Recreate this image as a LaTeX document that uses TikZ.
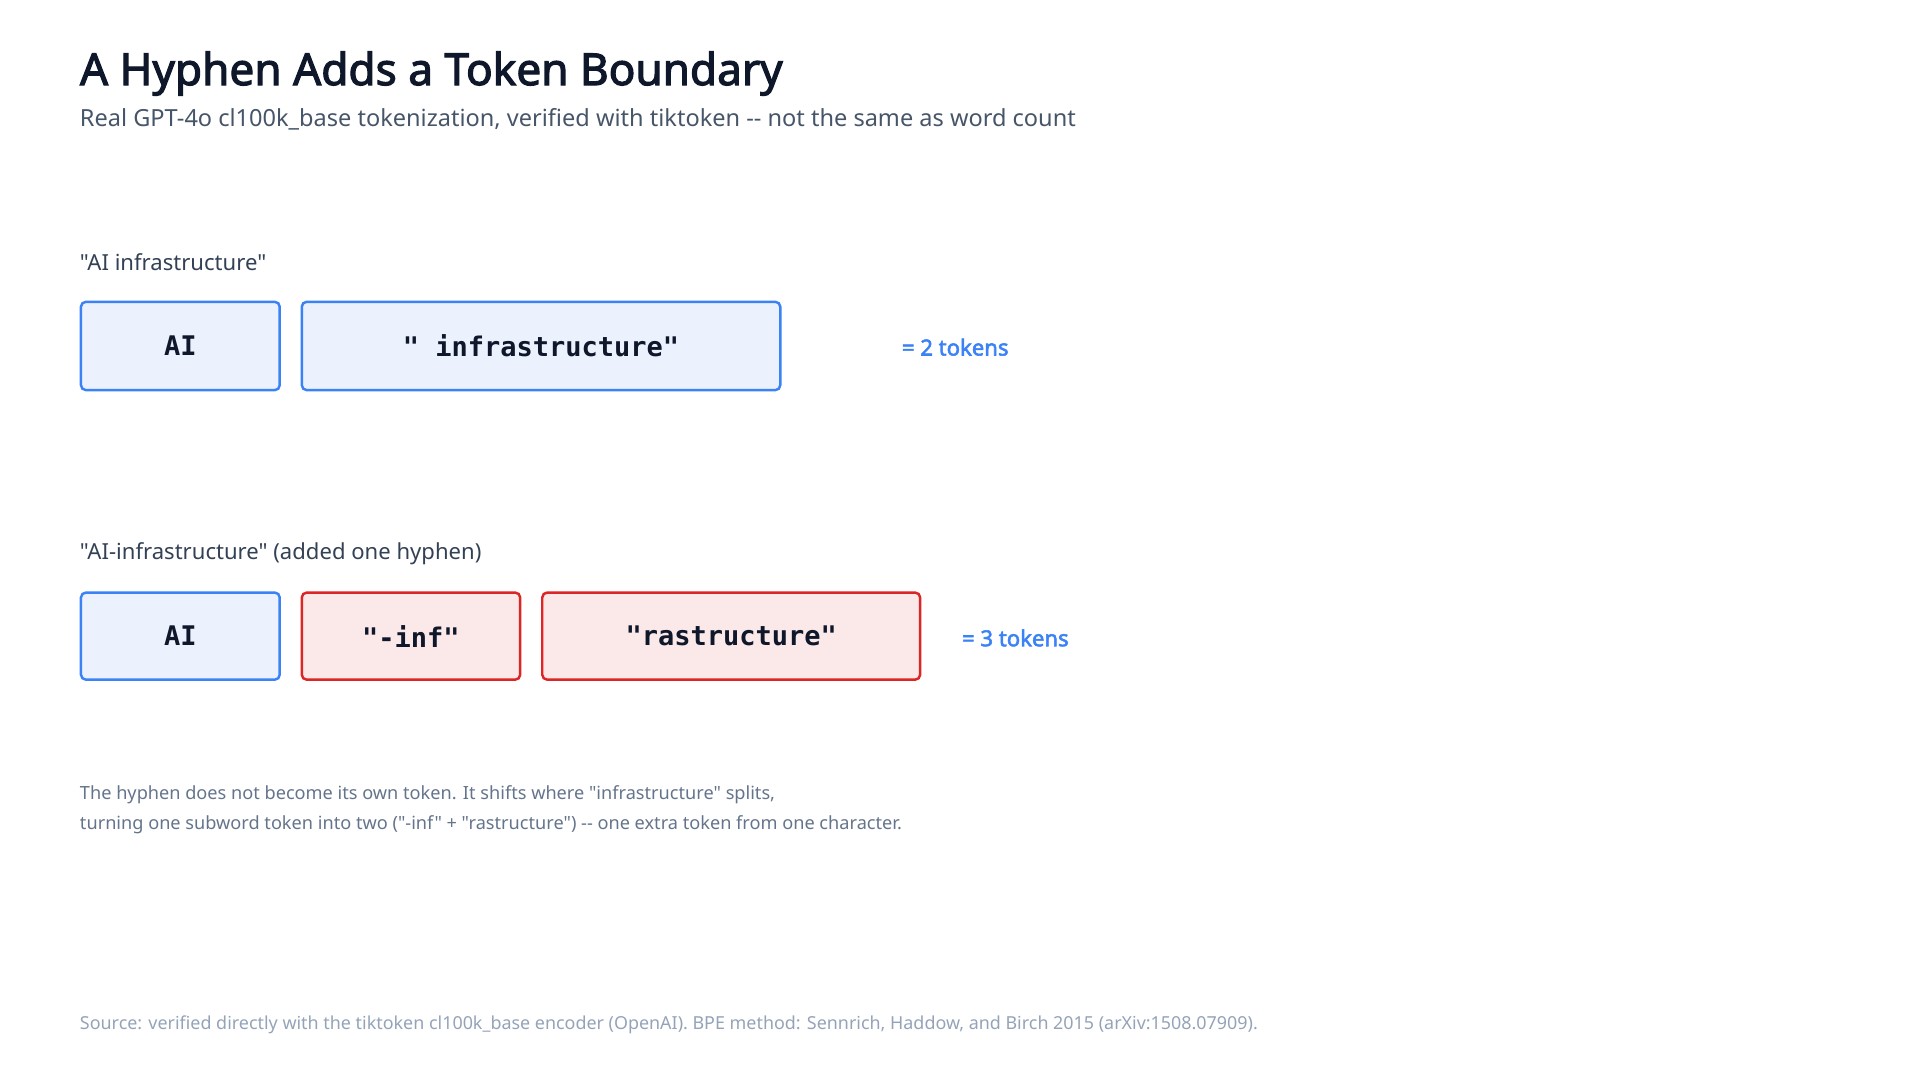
\documentclass[tikz,border=0pt]{standalone}
\usepackage{fontspec}
\setmainfont{Noto Sans}[Ligatures=TeXOff,BoldFont={Noto Sans},BoldFeatures={FakeBold=2.5}]
\newfontfamily\mono{DejaVu Sans Mono}[Ligatures=TeXOff]
\definecolor{bblue}{HTML}{3B82F6}
\definecolor{fblue}{HTML}{EBF1FD}
\definecolor{bred}{HTML}{DC2626}
\definecolor{fred}{HTML}{FBE8E8}
\definecolor{ctitle}{HTML}{0F172A}
\definecolor{csub}{HTML}{475569}
\definecolor{clab}{HTML}{334155}
\definecolor{cnote}{HTML}{64748B}
\definecolor{csrc}{HTML}{94A3B8}
\begin{document}
\begin{tikzpicture}[x=1pt,y=-1pt,
  tok/.style={draw,line width=2pt,rounded corners=4pt,inner sep=0pt,font=\mono\bfseries\fontsize{22}{26}\selectfont,text=ctitle},
  bt/.style={tok,draw=bblue,fill=fblue},
  rt/.style={tok,draw=bred,fill=fred},
  txt/.style={anchor=west,inner sep=0pt}]
\useasboundingbox (0,0) rectangle (1565,880);
\node[txt,font=\bfseries\fontsize{36}{40}\selectfont,text=ctitle] (title) at (65,60) {A Hyphen Adds a Token Boundary};
\node[txt,font=\fontsize{19.2}{24}\selectfont,text=csub] (sub) at (65,97) {Real GPT-4o cl100k\_base tokenization, verified with tiktoken -- not the same as word count};
\node[txt,font=\fontsize{18}{22}\selectfont,text=clab] (l1) at (65,214) {"AI infrastructure"};
\node[bt,minimum width=162pt,minimum height=72pt] (a1) at (147,282) {AI};
\node[bt,minimum width=390pt,minimum height=72pt] (b1) at (441,282) {" infrastructure"};
\node[txt,font=\bfseries\fontsize{18}{22}\selectfont,text=bblue] (c1) at (735,283) {= 2 tokens};
\node[txt,font=\fontsize{18}{22}\selectfont,text=clab] (l2) at (65,451) {"AI-infrastructure" (added one hyphen)};
\node[bt,minimum width=162pt,minimum height=71pt] (a2) at (147,518.5) {AI};
\node[rt,minimum width=178pt,minimum height=71pt] (b2) at (335,518.5) {"-inf"};
\node[rt,minimum width=308pt,minimum height=71pt] (d2) at (596,518.5) {"rastructure"};
\node[txt,font=\bfseries\fontsize{18}{22}\selectfont,text=bblue] (c2) at (784,520) {= 3 tokens};
\node[txt,font=\fontsize{14.8}{18}\selectfont,text=cnote] (n1) at (65,648) {The hyphen does not become its own token. It shifts where "infrastructure" splits,};
\node[txt,font=\fontsize{14.8}{18}\selectfont,text=cnote] (n2) at (65,672) {turning one subword token into two ("-inf" + "rastructure") -- one extra token from one character.};
\node[txt,font=\fontsize{14.6}{18}\selectfont,text=csrc] (src) at (65,835) {Source: verified directly with the tiktoken cl100k\_base encoder (OpenAI). BPE method: Sennrich, Haddow, and Birch 2015 (arXiv:1508.07909).};
\end{tikzpicture}
\end{document}
